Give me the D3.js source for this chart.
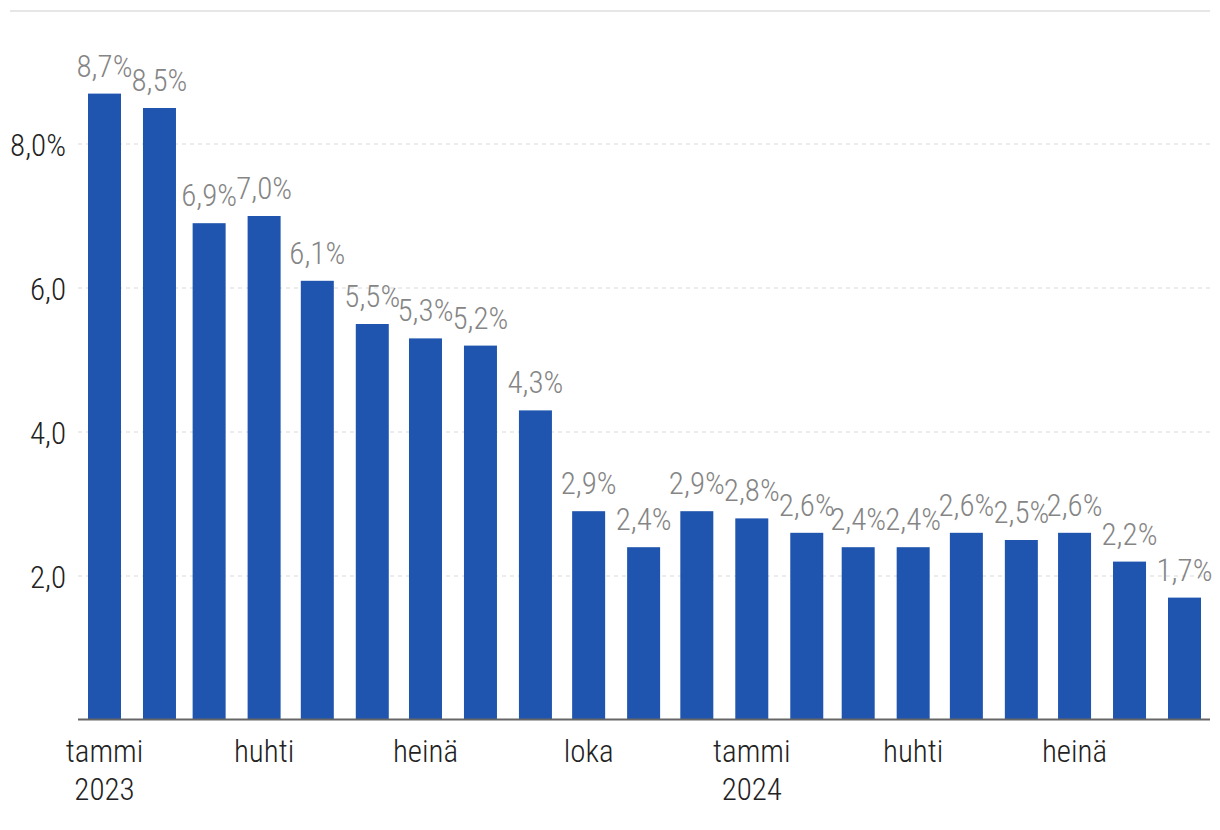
<!DOCTYPE html>
<html>
<head>
<meta charset="utf-8">
<script src="https://cdn.jsdelivr.net/npm/d3@7"></script>
<style>
  html, body { margin: 0; padding: 0; background: #fff; }
  svg { display: block; }
  text { font-family: "Roboto Condensed", "Liberation Sans Narrow", "DejaVu Sans Condensed", Roboto, sans-serif; font-stretch: condensed; font-weight: 300; }
</style>
</head>
<body>
<svg id="chart" width="1220" height="830"></svg>
<script>
// Data
const months = ["2023-01","2023-02","2023-03","2023-04","2023-05","2023-06","2023-07","2023-08","2023-09","2023-10","2023-11","2023-12",
                "2024-01","2024-02","2024-03","2024-04","2024-05","2024-06","2024-07","2024-08","2024-09"];
const values = [8.7, 8.5, 6.9, 7.0, 6.1, 5.5, 5.3, 5.2, 4.3, 2.9, 2.4, 2.9, 2.8, 2.6, 2.4, 2.4, 2.6, 2.5, 2.6, 2.2, 1.7];
const yTicks = [2, 4, 6, 8];
const yTickLabels = ["2,0", "4,0", "6,0", "8,0%"];
const xTickMonths = ["2023-01","2023-04","2023-07","2023-10","2024-01","2024-04","2024-07"];
const xTickLabels = [["tammi","2023"],["huhti"],["heinä"],["loka"],["tammi","2024"],["huhti"],["heinä"]];

const parse = d3.timeParse("%Y-%m");
const data = months.map((m, i) => ({ date: parse(m), value: values[i] }));

const svg = d3.select("#chart");

const x = d3.scaleTime()
  .domain([parse("2023-01"), parse("2024-09")])
  .range([104.5, 1184.5]);
const y = d3.scaleLinear().domain([0, 8]).range([720, 144]);

const barW = 33;
const plotLeft = 78, plotRight = 1210;

// top border line
svg.append("line")
  .attr("x1", 10).attr("x2", plotRight)
  .attr("y1", 11).attr("y2", 11)
  .attr("stroke", "#e6e6e6").attr("stroke-width", 2);

// gridlines
svg.append("g").selectAll("line").data(yTicks).join("line")
  .attr("x1", plotLeft).attr("x2", plotRight)
  .attr("y1", d => y(d)).attr("y2", d => y(d))
  .attr("stroke", "#d9d9d9").attr("stroke-width", 1)
  .attr("stroke-dasharray", "4,4");

// y labels
svg.append("g").selectAll("text").data(yTicks).join("text")
  .attr("x", 66).attr("y", d => y(d) + 12)
  .attr("text-anchor", "end")
  .attr("font-size", 31)
  .attr("fill", "#222")
  .text((d, i) => yTickLabels[i]);

// bars
svg.append("g").selectAll("rect").data(data).join("rect")
  .attr("x", d => x(d.date) - barW / 2)
  .attr("width", barW)
  .attr("y", d => y(d.value))
  .attr("height", d => y(0) - y(d.value))
  .attr("fill", "#1f55ae");

// value labels
const fmt = v => d3.format(".1f")(v).replace(".", ",") + "%";
svg.append("g").selectAll("text").data(data).join("text")
  .attr("x", d => x(d.date))
  .attr("y", d => y(d.value) - 17)
  .attr("text-anchor", "middle")
  .attr("font-size", 31)
  .attr("fill", "#858585")
  .text(d => fmt(d.value));

// x axis line
svg.append("line")
  .attr("x1", plotLeft).attr("x2", plotRight)
  .attr("y1", 719.5).attr("y2", 719.5)
  .attr("stroke", "#666").attr("stroke-width", 2);

// x tick labels
const xt = svg.append("g").selectAll("text").data(xTickMonths).join("text")
  .attr("x", d => x(parse(d)))
  .attr("y", 762)
  .attr("text-anchor", "middle")
  .attr("font-size", 31)
  .attr("fill", "#222");
xt.each(function(d, i) {
  const t = d3.select(this);
  xTickLabels[i].forEach((line, j) => {
    t.append("tspan").attr("x", x(parse(d))).attr("dy", j === 0 ? 0 : 38).text(line);
  });
});
</script>
</body>
</html>
